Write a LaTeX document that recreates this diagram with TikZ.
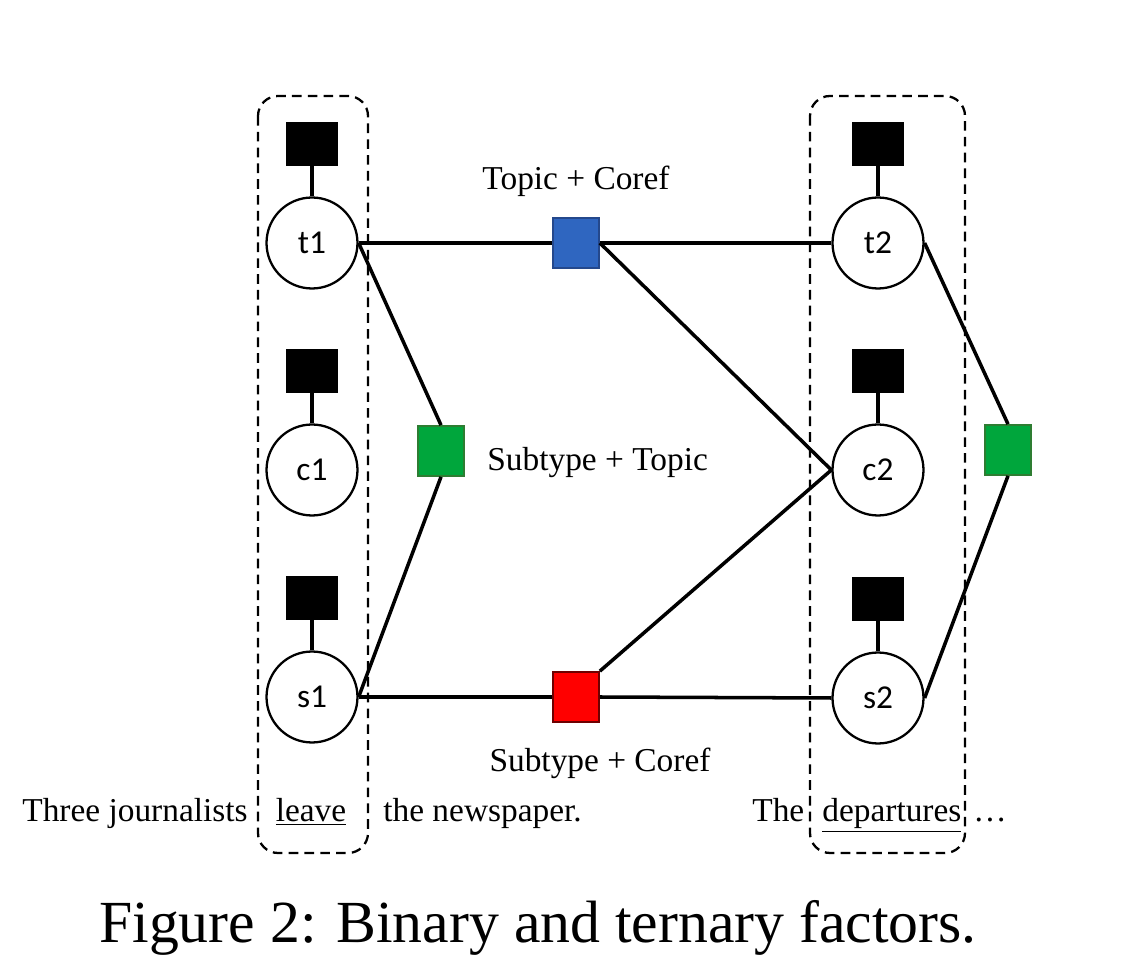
\documentclass[tikz,border=0pt]{standalone}
\usepackage{fontspec}
\usetikzlibrary{positioning}
\setmainfont{Liberation Serif}
\newfontfamily\circfont{Carlito}
\definecolor{topicblue}{RGB}{47,102,192}
\definecolor{topicblueline}{RGB}{36,72,140}
\definecolor{subgreen}{RGB}{0,166,60}
\definecolor{subgreenline}{RGB}{46,125,50}
\definecolor{corefred}{RGB}{255,0,0}
\definecolor{corefredline}{RGB}{110,0,0}
\begin{document}
\begin{tikzpicture}[x=0.02cm, y=-0.02cm,
    var/.style={draw, line width=1.3pt, circle, minimum size=1.82cm, inner sep=0pt, font=\circfont\fontsize{19}{19}\selectfont},
    unary/.style={fill=black, minimum width=1.04cm, minimum height=0.88cm, inner sep=0pt},
    pair/.style={draw, line width=1pt, minimum width=0.92cm, minimum height=1cm, inner sep=0pt},
    edge/.style={line width=2pt},
    mention/.style={draw, line width=1.3pt, dash pattern=on 5.5pt off 3.5pt, rounded corners=0.4cm},
    lbl/.style={font=\fontsize{19}{23}\selectfont}]
    \useasboundingbox (0,0) rectangle (1140,972);

    % mention boxes
    \draw[mention] (258,96) rectangle (368,853);
    \draw[mention] (810,96) rectangle (965,853);

    % variables
    \node[var] (t1) at (312,243) {t1};
    \node[var] (c1) at (312,470) {c1};
    \node[var] (s1) at (312,697) {s1};
    \node[var] (t2) at (878,243) {t2};
    \node[var] (c2) at (878,470) {c2};
    \node[var] (s2) at (878,698) {s2};

    % unary factors
    \foreach \v in {t1,c1,s1,t2,c2,s2} {
        \node[unary, above=0.61cm of \v] (u\v) {};
        \draw[edge] (u\v.south) -- (\v.north);
    }

    % pairwise factors
    \node[pair, fill=topicblue, draw=topicblueline] (tc) at (576,243) {};
    \node[pair, fill=corefred, draw=corefredline] (sc) at (576,697) {};
    \node[pair, fill=subgreen, draw=subgreenline] (st1) at (441,451) {};
    \node[pair, fill=subgreen, draw=subgreenline] (st2) at (1008,450) {};

    \draw[edge] (t1.east) -- (tc.west);
    \draw[edge] (tc.east) -- (t2.west);
    \draw[edge] (tc.east) -- (c2.west);
    \draw[edge] (s1.east) -- (sc.west);
    \draw[edge] (sc.east) -- (s2.west);
    \draw[edge] (sc.north east) -- (c2.west);
    \draw[edge] (t1.east) -- (st1.north);
    \draw[edge] (st1.south) -- (s1.east);
    \draw[edge] (t2.east) -- (st2.north);
    \draw[edge] (st2.south) -- (s2.east);

    % factor labels
    \node[lbl, anchor=base] (ltc) at (576,190) {Topic + Coref};
    \node[lbl, anchor=base west, inner sep=0pt] (lst) at (487,471) {Subtype + Topic};
    \node[lbl, anchor=base] (lsc) at (600,772) {Subtype + Coref};

    % sentence
    \node[lbl, anchor=base east, inner sep=0pt] (w1) at (248,822) {Three journalists};
    \node[lbl, anchor=base, inner sep=0pt] (w2) at (311,822) {\underline{leave}};
    \node[lbl, anchor=base west, inner sep=0pt] (w3) at (383,822) {the newspaper.};
    \node[lbl, anchor=base west, inner sep=0pt] (w4) at (752,822) {The};
    \node[lbl, anchor=base west, inner sep=0pt] (w5) at (822,822) {\underline{departures}};
    \node[lbl, anchor=base west, inner sep=0pt] (w6) at (973,822) {\dots};

    % caption
    \node[font=\fontsize{34}{40}\selectfont, anchor=base] (cap) at (538,943) {Figure 2: Binary and ternary factors.};
\end{tikzpicture}
\end{document}
